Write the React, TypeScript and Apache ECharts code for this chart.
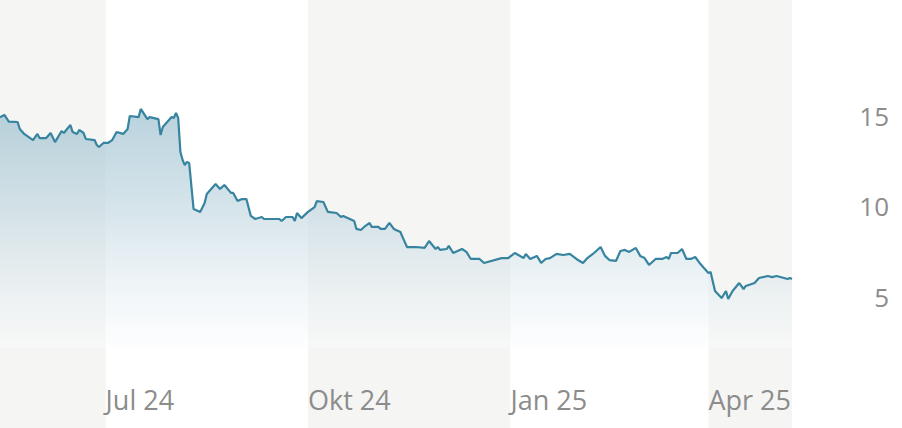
import React, { useEffect, useRef } from "react";
import * as echarts from "echarts";

const dates: string[] = [
  "2024-05-14","2024-05-16","2024-05-18","2024-05-22","2024-05-23","2024-05-25","2024-05-29","2024-05-31",
  "2024-06-01","2024-06-04","2024-06-06","2024-06-08","2024-06-11","2024-06-12","2024-06-15","2024-06-16",
  "2024-06-18","2024-06-19","2024-06-21","2024-06-22","2024-06-26","2024-06-27","2024-06-28","2024-06-30",
  "2024-07-02","2024-07-04","2024-07-06","2024-07-09","2024-07-11","2024-07-12","2024-07-16","2024-07-17",
  "2024-07-20","2024-07-21","2024-07-25","2024-07-26","2024-07-27","2024-07-31","2024-08-01","2024-08-02",
  "2024-08-03","2024-08-04","2024-08-05","2024-08-06","2024-08-07","2024-08-08","2024-08-10","2024-08-13",
  "2024-08-15","2024-08-16","2024-08-20","2024-08-22","2024-08-24","2024-08-27","2024-08-28","2024-08-30",
  "2024-09-01","2024-09-03","2024-09-05","2024-09-07","2024-09-10","2024-09-11","2024-09-18","2024-09-19",
  "2024-09-21","2024-09-24","2024-09-25","2024-09-26","2024-09-28","2024-10-01","2024-10-04","2024-10-05",
  "2024-10-08","2024-10-10","2024-10-14","2024-10-16","2024-10-17","2024-10-18","2024-10-22","2024-10-23",
  "2024-10-25","2024-10-27","2024-10-29","2024-10-30","2024-11-02","2024-11-03","2024-11-05","2024-11-07",
  "2024-11-09","2024-11-12","2024-11-13","2024-11-15","2024-11-19","2024-11-23","2024-11-25","2024-11-28",
  "2024-11-29","2024-11-30","2024-12-03","2024-12-04","2024-12-06","2024-12-10","2024-12-12","2024-12-14",
  "2024-12-18","2024-12-20","2024-12-28","2024-12-31","2025-01-03","2025-01-07","2025-01-08","2025-01-10",
  "2025-01-13","2025-01-15","2025-01-17","2025-01-19","2025-01-22","2025-01-25","2025-01-28","2025-01-31",
  "2025-02-03","2025-02-05","2025-02-08","2025-02-11","2025-02-13","2025-02-15","2025-02-18","2025-02-20",
  "2025-02-22","2025-02-24","2025-02-27","2025-03-01","2025-03-03","2025-03-05","2025-03-08","2025-03-11",
  "2025-03-13","2025-03-14","2025-03-15","2025-03-18","2025-03-20","2025-03-22","2025-03-24","2025-03-26",
  "2025-03-28","2025-03-30","2025-04-01","2025-04-02","2025-04-04","2025-04-07","2025-04-09","2025-04-10",
  "2025-04-12","2025-04-15","2025-04-17","2025-04-18","2025-04-22","2025-04-24","2025-04-28","2025-04-30",
  "2025-05-02","2025-05-07","2025-05-08","2025-05-09",
];

const prices: number[] = [
  14.93,15.06,14.69,14.67,14.28,14.01,13.67,14.01,
  13.78,13.78,14.06,13.56,14.17,14.06,14.5,14.12,
  14.01,14.23,14.06,13.73,13.67,13.4,13.29,13.51,
  13.51,13.67,14.12,14.01,14.28,15.0,14.94,15.39,
  14.83,14.94,14.83,13.95,14.39,14.94,14.89,15.17,
  14.89,13.01,12.57,12.29,12.46,12.4,9.86,9.7,
  10.19,10.69,11.24,10.97,11.19,10.75,10.75,10.3,
  10.41,10.41,9.48,9.31,9.42,9.31,9.31,9.2,
  9.42,9.42,9.2,9.64,9.36,9.7,9.97,10.3,
  10.25,9.7,9.64,9.42,9.48,9.42,9.2,8.76,
  8.7,8.92,9.09,8.87,8.87,8.76,8.76,9.09,
  8.76,8.59,8.31,7.76,7.76,7.71,8.09,7.65,
  7.76,7.6,7.65,7.82,7.43,7.65,7.49,7.1,
  7.1,6.88,7.15,7.15,7.43,7.15,7.38,7.1,
  7.27,6.88,7.1,7.15,7.38,7.32,7.38,7.1,
  6.88,7.15,7.43,7.76,7.27,7.04,6.99,7.54,
  7.6,7.49,7.71,7.27,7.15,6.77,7.1,7.1,
  7.21,7.1,7.43,7.43,7.65,7.1,7.1,7.21,
  6.88,6.6,6.33,6.38,5.33,4.94,5.33,4.89,
  5.33,5.77,5.44,5.61,5.77,6.05,6.16,6.1,
  6.16,5.99,6.05,5.99,
];

const tickDates: string[] = ["2024-07-01", "2024-10-01", "2025-01-01", "2025-04-01"];
const tickLabels: string[] = ["Jul 24", "Okt 24", "Jan 25", "Apr 25"];
const yTicks: number[] = [5, 10, 15];
const rangeStart = "2024-05-14";
const rangeEnd = "2025-05-09";
const shadedBands: [string, string][] = [
  [rangeStart, "2024-07-01"],
  ["2024-10-01", "2025-01-01"],
  ["2025-04-01", rangeEnd],
];

function ts(s: string): number {
  const [y, m, d] = s.split("-").map(Number);
  return new Date(y, m - 1, d).getTime();
}

export default function App() {
  const ref = useRef<HTMLDivElement>(null);
  useEffect(() => {
    if (!ref.current) return;
    const chart = echarts.init(ref.current, undefined, { renderer: "svg" });
    const seriesData = dates.map((d, i) => [ts(d), prices[i]]);
    const tickTimes = tickDates.map(ts);
    const textColor = "#8c8c8c";
    const font = "'Open Sans', 'Noto Sans', sans-serif";
    const DAY = 86400000;
    chart.setOption({
      animation: false,
      backgroundColor: "#ffffff",
      grid: { left: 0, right: 110, top: 0, bottom: 0, containLabel: false },
      xAxis: {
        type: "value",
        z: 10,
        min: ts(rangeStart),
        max: ts(rangeEnd),
        splitLine: { show: false },
        axisLine: { show: false },
        axisTick: { show: false },
        axisLabel: {
          customValues: tickTimes,
          hideOverlap: false,
          inside: true,
          margin: 29,
          align: "left",
          verticalAlign: "middle",
          fontSize: 27,
          color: textColor,
          fontFamily: font,
          formatter: (v: number) => {
            let best = -1;
            let bestD = Infinity;
            tickTimes.forEach((t, i) => {
              const d = Math.abs(t - Number(v));
              if (d < bestD) {
                bestD = d;
                best = i;
              }
            });
            return best >= 0 && bestD < 20 * DAY ? tickLabels[best] : "";
          },
        },
      },
      yAxis: {
        type: "value",
        z: 10,
        position: "right",
        min: -2.24,
        max: 21.41,
        splitLine: { show: false },
        axisLine: { show: false },
        axisTick: { show: false },
        axisLabel: {
          customValues: yTicks,
          margin: 97,
          align: "right",
          verticalAlign: "middle",
          fontSize: 26,
          color: textColor,
          fontFamily: font,
        },
      },
      series: [
        {
          type: "line",
          z: 1,
          data: seriesData,
          showSymbol: false,
          silent: true,
          lineStyle: { opacity: 0, width: 0 },
          markArea: {
            silent: true,
            itemStyle: { color: "#f5f5f3" },
            data: shadedBands.map(([a, b]) => [{ xAxis: ts(a) }, { xAxis: ts(b) }]),
          },
        },
        {
          type: "line",
          z: 2,
          data: seriesData,
          showSymbol: false,
          smooth: false,
          lineStyle: { color: "#36849f", width: 2.2 },
          areaStyle: {
            origin: 2.18,
            color: new echarts.graphic.LinearGradient(0, 0, 0, 1, [
              { offset: 0, color: "rgba(150,188,204,0.95)" },
              { offset: 0.45, color: "rgba(194,215,225,0.9)" },
              { offset: 1, color: "rgba(250,252,253,0.6)" },
            ]),
          },
        },
      ],
    });
    return () => chart.dispose();
  }, []);
  return (
    <div
      ref={ref}
      style={{ position: "fixed", left: 0, top: 0, width: 902, height: 428 }}
    />
  );
}
